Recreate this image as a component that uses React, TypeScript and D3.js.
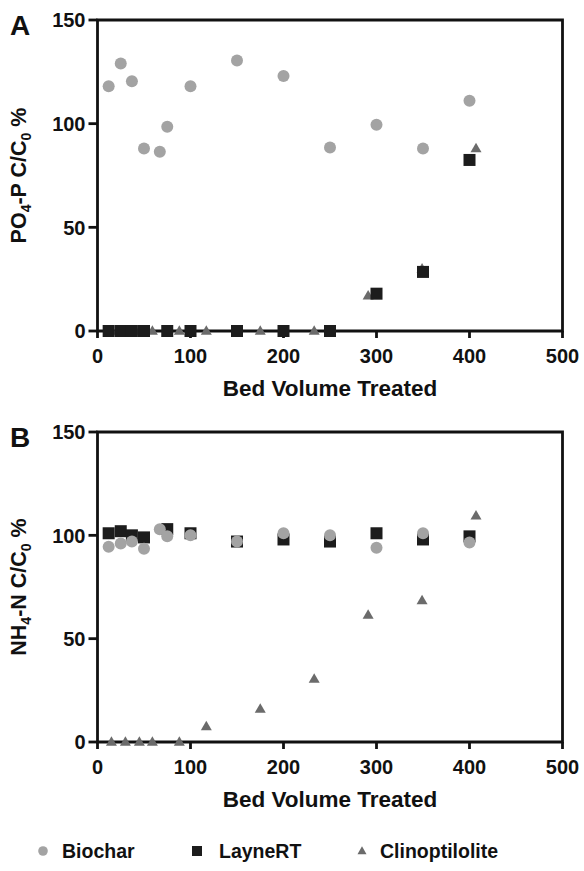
import React from "react";
import * as d3 from "d3";

// ---- data ----
const bvBiochar = [12, 25, 37, 50, 67, 75, 100, 150, 200, 250, 300, 350, 400];
const po4Biochar = [118, 129, 120.5, 88, 86.5, 98.5, 118, 130.5, 123, 88.5, 99.5, 88, 111];
const nh4Biochar = [94.5, 96, 97, 93.5, 103, 99.5, 100, 97, 101, 100, 94, 101, 96.5];

const bvLayne = [12, 25, 37, 50, 75, 100, 150, 200, 250, 300, 350, 400];
const po4Layne = [0, 0, 0, 0, 0, 0, 0, 0, 0, 18, 28.5, 82.5];
const nh4Layne = [101, 102, 100, 99, 103, 101, 97, 98, 97, 101, 98, 99.5];

const bvClino = [15, 30, 45, 59, 88, 117, 175, 233, 291, 349, 407];
const po4Clino = [0, 0, 0, 0, 0, 0, 0, 0, 17, 30, 88];
const nh4Clino = [0, 0, 0, 0, 0, 7.5, 16, 30.5, 61.5, 68.5, 109.5];

const xTicks = [0, 100, 200, 300, 400, 500];
const yTicks = [0, 50, 100, 150];
const seriesNames = ["Biochar", "LayneRT", "Clinoptilolite"];

const FONT = "'Liberation Sans', Arial, Helvetica, sans-serif";
const C_BIO = "#a3a3a3";
const C_LAY = "#1c1c1c";
const C_CLI = "#6b6b6b";

function tri(cx: number, cy: number, w: number) {
  const h = w * 0.87;
  return `M${cx},${cy - h * 0.6}L${cx + w / 2},${cy + h * 0.4}L${cx - w / 2},${cy + h * 0.4}Z`;
}

type PanelProps = {
  top: number;
  bottom: number;
  letter: string;
  ylabel: [string, string, string];
  bio: number[];
  lay: number[];
  cli: number[];
};

function Panel({ top, bottom, letter, ylabel, bio, lay, cli }: PanelProps) {
  const left = 97.5;
  const right = 562.5;
  const x = d3.scaleLinear().domain([0, 500]).range([left, right]);
  const y = d3.scaleLinear().domain([0, 150]).range([bottom, top]);
  const sw = 2.8;
  const cy = (top + bottom) / 2;
  return (
    <g fontFamily={FONT} fontWeight="bold" fill="#111">
      <text x={10} y={top + 15} fontSize={28}>{letter}</text>
      {/* frame */}
      <path
        d={`M${left},${bottom}L${left},${top}L${right},${top}L${right},${bottom}Z`}
        fill="none"
        stroke="#111"
        strokeWidth={sw}
      />
      {yTicks.map((t) => (
        <g key={"y" + t}>
          <line x1={left - 9} x2={left} y1={y(t)} y2={y(t)} stroke="#111" strokeWidth={sw} />
          <text x={left - 12} y={y(t)} dy="0.36em" textAnchor="end" fontSize={20}>{t}</text>
        </g>
      ))}
      {xTicks.map((t) => (
        <g key={"x" + t}>
          <line x1={x(t)} x2={x(t)} y1={bottom} y2={bottom + 7} stroke="#111" strokeWidth={sw} />
          <text x={x(t)} y={bottom + 32} textAnchor="middle" fontSize={20}>{t}</text>
        </g>
      ))}
      <text x={(left + right) / 2} y={bottom + 65} textAnchor="middle" fontSize={22.5}>
        Bed Volume Treated
      </text>
      <text transform={`translate(26,${cy}) rotate(-90)`} textAnchor="middle" fontSize={21.5}>
        {ylabel[0]}
        <tspan dy={5} fontSize={14}>{ylabel[1]}</tspan>
        <tspan dy={-5}>-{ylabel[2]} C/C</tspan>
        <tspan dy={5} fontSize={14}>0</tspan>
        <tspan dy={-5}> %</tspan>
      </text>
      {/* markers */}
      {bvClino.map((v, i) => (
        <path key={"c" + i} d={tri(x(v), y(cli[i]), 11)} fill={C_CLI} />
      ))}
      {bvLayne.map((v, i) => (
        <rect key={"l" + i} x={x(v) - 6} y={y(lay[i]) - 6} width={12} height={12} fill={C_LAY} />
      ))}
      {bvBiochar.map((v, i) => (
        <circle key={"b" + i} cx={x(v)} cy={y(bio[i])} r={6} fill={C_BIO} />
      ))}
    </g>
  );
}

export default function App() {
  const ly = 851;
  return (
    <div style={{ position: "absolute", left: 0, top: 0 }}>
      <svg width={584} height={871} style={{ display: "block", background: "#fff" }}>
        <Panel top={20} bottom={331} letter="A" ylabel={["PO", "4", "P"]} bio={po4Biochar} lay={po4Layne} cli={po4Clino} />
        <Panel top={432} bottom={742} letter="B" ylabel={["NH", "4", "N"]} bio={nh4Biochar} lay={nh4Layne} cli={nh4Clino} />
        <g fontFamily={FONT} fontWeight="bold" fill="#111" fontSize={19.5}>
          <circle cx={43} cy={ly} r={4.8} fill={C_BIO} />
          <text x={62} y={ly} dy="0.36em">{seriesNames[0]}</text>
          <rect x={192} y={ly - 5} width={10} height={10} fill={C_LAY} />
          <text x={219} y={ly} dy="0.36em">{seriesNames[1]}</text>
          <path d={tri(362, ly, 9)} fill={C_CLI} />
          <text x={380} y={ly} dy="0.36em">{seriesNames[2]}</text>
        </g>
      </svg>
    </div>
  );
}
